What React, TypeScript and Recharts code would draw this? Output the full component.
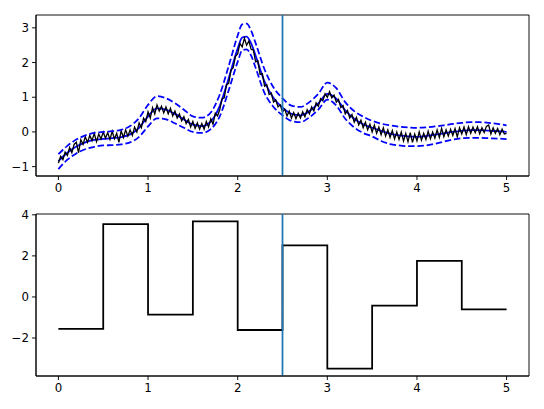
import { LineChart, Line, XAxis, YAxis, ReferenceLine, ReferenceArea } from "recharts";

// top panel: smooth fit + bounds on a coarse grid
const fitX = [0, 0.1, 0.2, 0.3, 0.4, 0.5, 0.6, 0.7, 0.8, 0.9, 1.0, 1.1, 1.2, 1.3, 1.4, 1.5, 1.6, 1.7, 1.8, 1.9, 2.0, 2.05, 2.1, 2.15, 2.2, 2.3, 2.4, 2.5, 2.6, 2.7, 2.8, 2.9, 3.0, 3.1, 3.2, 3.3, 3.4, 3.5, 3.6, 3.7, 3.8, 3.9, 4.0, 4.1, 4.2, 4.3, 4.4, 4.5, 4.6, 4.7, 4.8, 4.9, 5.0];
const fitMean = [-0.84, -0.6, -0.42, -0.3, -0.23, -0.2, -0.18, -0.15, -0.07, 0.12, 0.45, 0.68, 0.64, 0.52, 0.36, 0.21, 0.17, 0.3, 0.75, 1.55, 2.4, 2.72, 2.75, 2.55, 2.2, 1.45, 0.98, 0.7, 0.52, 0.48, 0.6, 0.82, 1.1, 0.96, 0.62, 0.38, 0.22, 0.12, 0.03, -0.05, -0.1, -0.13, -0.14, -0.12, -0.08, -0.04, 0.0, 0.03, 0.05, 0.05, 0.04, 0.02, 0.0];
const fitUpper = [-0.64, -0.4, -0.22, -0.1, -0.03, 0.0, 0.02, 0.06, 0.17, 0.4, 0.78, 1.03, 0.97, 0.83, 0.64, 0.45, 0.41, 0.56, 1.08, 1.9, 2.78, 3.1, 3.12, 2.92, 2.56, 1.8, 1.28, 0.97, 0.76, 0.72, 0.86, 1.1, 1.42, 1.26, 0.86, 0.6, 0.44, 0.32, 0.24, 0.19, 0.15, 0.13, 0.12, 0.13, 0.16, 0.19, 0.23, 0.26, 0.28, 0.28, 0.26, 0.23, 0.19];
const fitLower = [-1.07, -0.8, -0.62, -0.5, -0.43, -0.39, -0.38, -0.36, -0.3, -0.14, 0.16, 0.39, 0.36, 0.25, 0.12, 0.0, -0.03, 0.08, 0.45, 1.2, 2.02, 2.35, 2.38, 2.2, 1.85, 1.12, 0.72, 0.48, 0.32, 0.28, 0.42, 0.64, 0.93, 0.76, 0.38, 0.13, -0.03, -0.13, -0.26, -0.35, -0.39, -0.41, -0.41, -0.39, -0.34, -0.28, -0.22, -0.18, -0.17, -0.17, -0.18, -0.19, -0.21];

// noisy observations, every 0.025 from 0 to 5
const obsStep = 0.025;
const obsY = [
  -0.9, -0.7, -0.8, -0.58, -0.68, -0.45, -0.6, -0.36,
  -0.3, -0.6, -0.22, -0.36, -0.14, -0.3, -0.1, -0.25,
  -0.04, -0.28, -0.06, -0.2, 0.0, -0.18, -0.02, -0.22,
  0.02, -0.2, -0.04, -0.3, 0.03, -0.16, 0.06, -0.12,
  0.06, -0.1, 0.14, 0.0, 0.26, 0.12, 0.4, 0.3,
  0.58, 0.4, 0.7, 0.52, 0.78, 0.6, 0.74, 0.55,
  0.72, 0.52, 0.68, 0.46, 0.6, 0.4, 0.52, 0.32,
  0.44, 0.24, 0.36, 0.14, 0.3, 0.1, 0.26, 0.08,
  0.24, 0.08, 0.3, 0.14, 0.38, 0.22, 0.54, 0.46,
  0.64, 0.95, 0.98, 1.36, 1.4, 1.78, 1.85, 2.18,
  2.25, 2.55, 2.45, 2.7, 2.5, 2.62, 2.38, 2.36,
  2.02, 2.05, 1.66, 1.68, 1.32, 1.36, 1.08, 1.12,
  0.86, 0.92, 0.72, 0.78, 0.58, 0.66, 0.46, 0.6,
  0.4, 0.56, 0.38, 0.54, 0.4, 0.58, 0.44, 0.64,
  0.52, 0.72, 0.6, 0.84, 0.74, 0.96, 0.9, 1.1,
  1.0, 1.16, 0.98, 1.06, 0.86, 0.94, 0.7, 0.76,
  0.52, 0.62, 0.4, 0.5, 0.28, 0.42, 0.2, 0.34,
  0.12, 0.28, 0.06, 0.22, 0.0, 0.2, -0.04, 0.14,
  -0.08, 0.12, -0.12, 0.06, -0.16, 0.04, -0.2, 0.0,
  -0.22, 0.0, -0.26, -0.04, -0.28, -0.02, -0.3, -0.06,
  -0.26, 0.0, -0.24, -0.04, -0.22, 0.02, -0.2, 0.0,
  -0.18, 0.06, -0.16, 0.1, -0.14, 0.06, -0.12, 0.08,
  -0.1, 0.1, -0.14, 0.12, -0.06, 0.14, -0.08, 0.15,
  -0.04, 0.14, -0.02, 0.15, -0.05, 0.12, -0.02, 0.16,
  0.2, -0.06, 0.12, -0.04, 0.1, -0.08, 0.08, -0.06,
  -0.04,
];

// bottom panel: piecewise constant signal
const stepEdges = [0, 0.5, 1, 1.5, 2, 2.5, 3, 3.5, 4, 4.5, 5];
const stepLevels = [-1.56, 3.55, -0.86, 3.68, -1.61, 2.51, -3.49, -0.42, 1.76, -0.61];

const xTicks = [0, 1, 2, 3, 4, 5];
const topYTicks = [-1, 0, 1, 2, 3];
const bottomYTicks = [-2, 0, 2, 4];
const splitAt = 2.5;

const fitData = fitX.map((x, i) => ({ x, mean: fitMean[i], upper: fitUpper[i], lower: fitLower[i] }));
const obsData = obsY.map((y, i) => ({ x: +(i * obsStep).toFixed(3), y }));
const stepData = stepEdges.map((x, i) => ({ x, y: stepLevels[Math.min(i, stepLevels.length - 1)] }));

const X_DOMAIN: [number, number] = [-0.25, 5.25];
const TOP_DOMAIN: [number, number] = [-1.27, 3.37];
const BOTTOM_DOMAIN: [number, number] = [-3.85, 4.04];

const FONT = "'DejaVu Sans', sans-serif";
const minus = (v: number) => String(v).replace("-", "\u2212");

const axisProps = {
  tick: { fill: "#000", fontSize: 11.8, fontFamily: FONT },
  axisLine: { stroke: "#000", strokeWidth: 0.94 },
  tickLine: { stroke: "#000", strokeWidth: 0.94 },
  tickSize: 4,
  tickFormatter: minus,
};

function Frame({ y }: { y: [number, number] }) {
  return (
    <ReferenceArea
      x1={X_DOMAIN[0]}
      x2={X_DOMAIN[1]}
      y1={y[0]}
      y2={y[1]}
      fill="none"
      stroke="#000"
      strokeWidth={0.94}
      ifOverflow="visible"
    />
  );
}

export default function App() {
  return (
    <div style={{ position: "absolute", left: 0, top: 0, width: 544, height: 409, background: "#fff" }}>
      <div style={{ position: "absolute", left: 0, top: 0 }}>
        <LineChart width={544} height={206} margin={{ top: 15, right: 15, bottom: 0, left: 0 }}>
          <XAxis dataKey="x" type="number" domain={X_DOMAIN} ticks={xTicks} allowDataOverflow height={30} tickMargin={4} {...axisProps} />
          <YAxis type="number" domain={TOP_DOMAIN} ticks={topYTicks} allowDataOverflow width={36} tickMargin={3} {...axisProps} />
          <Frame y={TOP_DOMAIN} />
          <Line data={fitData} dataKey="mean" stroke="#0000ff" strokeWidth={1.77} dot={false} isAnimationActive={false} type="monotone" />
          <Line data={obsData} dataKey="y" stroke="#000" strokeWidth={1.3} dot={false} isAnimationActive={false} type="linear" />
          <Line data={fitData} dataKey="upper" stroke="#0000ff" strokeWidth={1.77} strokeDasharray="6.5 2.8" dot={false} isAnimationActive={false} type="monotone" />
          <Line data={fitData} dataKey="lower" stroke="#0000ff" strokeWidth={1.77} strokeDasharray="6.5 2.8" dot={false} isAnimationActive={false} type="monotone" />
          <ReferenceLine x={splitAt} stroke="#1f77b4" strokeWidth={1.77} />
        </LineChart>
      </div>
      <div style={{ position: "absolute", left: 0, top: 200 }}>
        <LineChart width={544} height={209} margin={{ top: 14, right: 15, bottom: 3, left: 0 }} data={stepData}>
          <XAxis dataKey="x" type="number" domain={X_DOMAIN} ticks={xTicks} allowDataOverflow height={30} tickMargin={4} {...axisProps} />
          <YAxis type="number" domain={BOTTOM_DOMAIN} ticks={bottomYTicks} allowDataOverflow width={36} tickMargin={3} {...axisProps} />
          <Frame y={BOTTOM_DOMAIN} />
          <Line dataKey="y" stroke="#000" strokeWidth={1.77} dot={false} isAnimationActive={false} type="stepAfter" />
          <ReferenceLine x={splitAt} stroke="#1f77b4" strokeWidth={1.77} />
        </LineChart>
      </div>
    </div>
  );
}
